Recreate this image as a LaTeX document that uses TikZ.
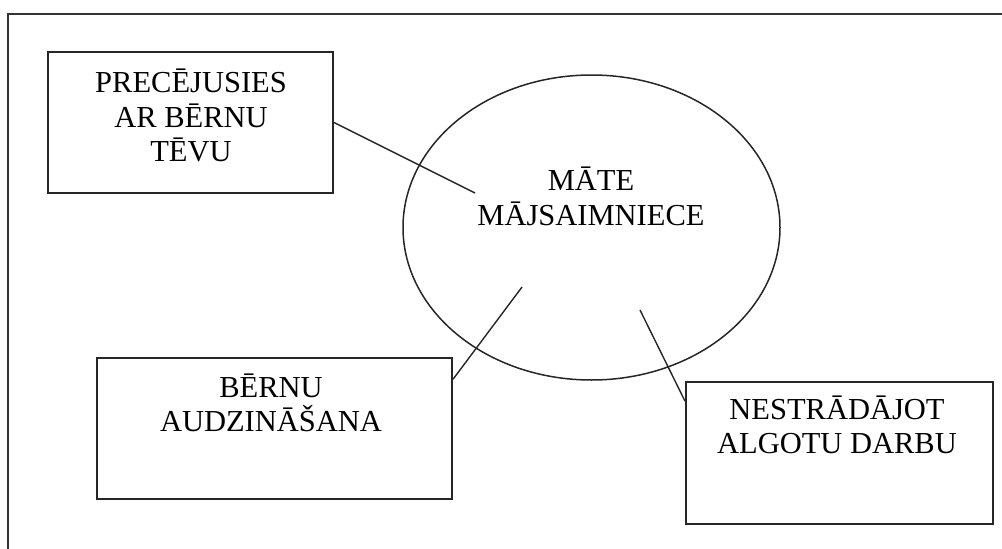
\documentclass[tikz,border=0pt]{standalone}
\usepackage{fontspec}
\setmainfont{Liberation Serif}
\usetikzlibrary{calc,shapes.geometric}
\tikzset{
  frameline/.style={line width=1.8pt, draw=black!80},
  labelbox/.style={draw=black!85, line width=2pt, rectangle, inner sep=0pt},
  hub/.style={draw=black!85, line width=1.5pt, ellipse, inner sep=0pt},
  caption/.style={align=center, inner sep=0pt,
    font={\fontsize{30.5}{34.5}\selectfont}},
  link/.style={draw=black!85, line width=1.4pt}
}
\begin{document}
\begin{tikzpicture}[x=1pt,y=-1pt]
  \useasboundingbox (0,0) rectangle (1002,549);
  % open page frame
  \draw[frameline] (8,549) -- (8,14) -- (1002,14);

  % central ellipse
  \node[hub, minimum width=377pt, minimum height=305pt] (hub) at (591.5,227.5) {};
  \node[caption, anchor=base] (hubtxt) at (591,225) {MĀTE\\MĀJSAIMNIECE};

  % surrounding boxes (text sits on the baseline of its last line)
  \node[labelbox, minimum width=285pt, minimum height=141pt] (b1) at (190.5,122.5) {};
  \node[caption, anchor=base] (t1) at (191,161.5) {PRECĒJUSIES\\AR BĒRNU\\TĒVU};

  \node[labelbox, minimum width=355pt, minimum height=141pt] (b2) at (274.5,428.5) {};
  \node[caption, anchor=base] (t2) at (271,431.5) {BĒRNU\\AUDZINĀŠANA};

  \node[labelbox, minimum width=307pt, minimum height=142pt] (b3) at (839.5,453) {};
  \node[caption, anchor=base] (t3) at (837,453.5) {NESTRĀDĀJOT\\ALGOTU DARBU};

  % inner ends of the connectors
  \coordinate (m1) at (475,193);
  \coordinate (m2) at (522,287);
  \coordinate (m3) at (640,310);

  % connectors
  \draw[link] (b1.east) -- (m1);
  \draw[link] ($(b2.north east)!0.156!(b2.south east)$) -- (m2);
  \draw[link] ($(b3.north west)!0.14!(b3.south west)$) -- (m3);
\end{tikzpicture}
\end{document}
